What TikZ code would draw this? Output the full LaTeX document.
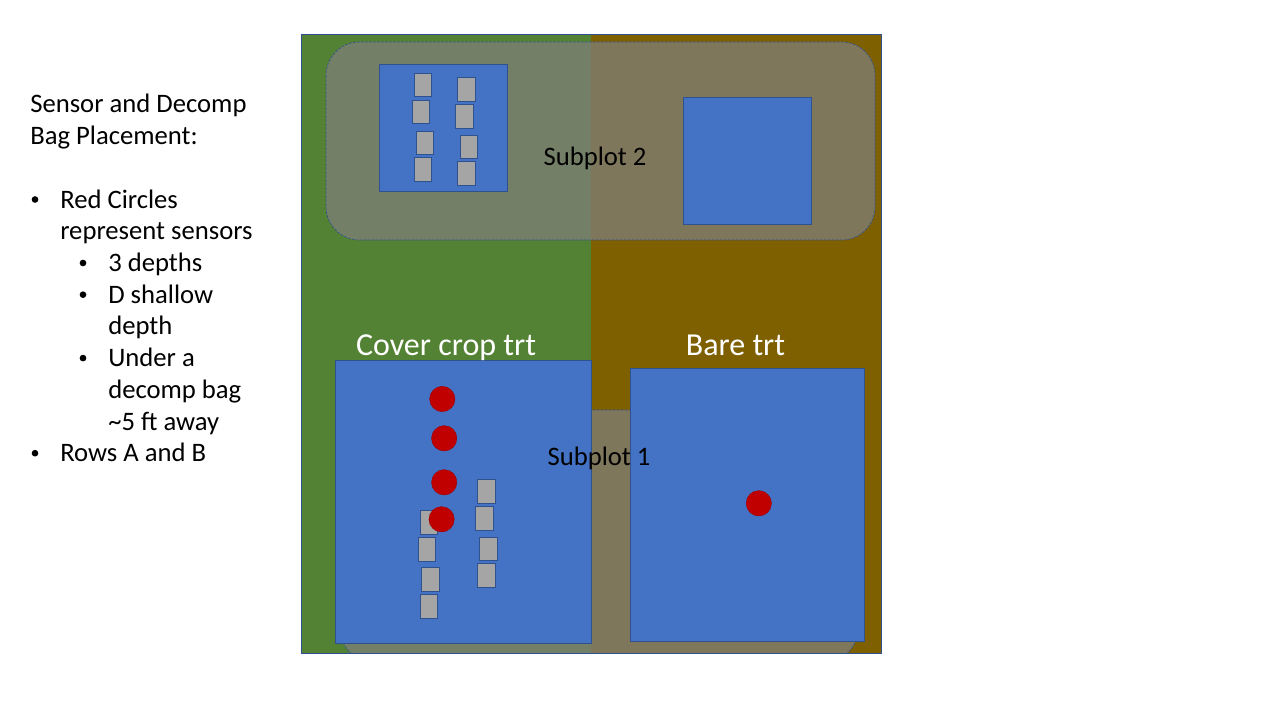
\documentclass[tikz,border=0pt]{standalone}
\usepackage{fontspec}
\setmainfont{Carlito}
\usepackage{tikz}

\definecolor{covergreen}{RGB}{84,130,53}
\definecolor{barebrown}{RGB}{127,96,0}
\definecolor{plotblue}{RGB}{68,114,196}
\definecolor{edgeblue}{RGB}{47,82,143}
\definecolor{baggray}{RGB}{165,165,165}
\definecolor{sensorred}{RGB}{192,0,0}
\definecolor{subgray}{RGB}{127,127,122}

\begin{document}
\begin{tikzpicture}[x=0.75pt,y=-0.75pt,
  plot/.style={draw=edgeblue,line width=0.6pt,fill=plotblue},
  subplot/.style={draw=edgeblue,line width=0.5pt,dash pattern=on 2pt off 1pt,
    fill=subgray,fill opacity=0.75,rounded corners=25pt},
  bag/.style={draw=edgeblue,line width=0.5pt,fill=baggray,inner sep=0pt,
    minimum width=13.2pt,minimum height=17.6pt},
  sensor/.style={circle,draw=sensorred!80!black,line width=0.3pt,fill=sensorred,
    inner sep=0pt,minimum size=19pt},
  legend/.style={anchor=base west,inner sep=0pt,font=\fontsize{20}{24}\selectfont},
  dot/.style={circle,fill=black,inner sep=0pt,minimum size=5pt},
  trt/.style={anchor=base,inner sep=0pt,text=white,font=\fontsize{24}{28}\selectfont},
  sub/.style={anchor=base,inner sep=0pt,font=\fontsize{20}{24}\selectfont}]
\useasboundingbox[fill=white] (0,0) rectangle (1280,720);

% field halves
\fill[covergreen] (301,34) rectangle (591,653);
\fill[barebrown] (591,34) rectangle (881,653);
\begin{scope}
\clip (301,34) rectangle (881,653);
\draw[subplot] (340,410) rectangle (858,662);
\end{scope}
\draw[edgeblue,line width=0.6pt] (301,34) rectangle (881,653);
\draw[subplot] (326,42) rectangle (875,240);

% plots
\draw[plot] (379,64) rectangle (507,191);
\draw[plot] (683,97) rectangle (811,224);
\draw[plot] (335,360) rectangle (591,643);
\draw[plot] (630,368) rectangle (864,641);

% decomp bags
\foreach \n/\x/\y in {ta/422.7/85,tb/420.8/112,tc/424.9/143,td/422.7/169.3,
  te/466.5/89.2,tf/464.6/116.5,tg/468.8/147,th/466.5/173.5,
  ca/428.7/522.3,cb/426.8/549.3,cc/430.5/579.3,cd/428.7/606.3,
  ce/486.3/491.2,cf/484.5/518.2,cg/488.2/549,ch/486.3/575.3}
  \node[bag] (bag-\n) at (\x,\y) {};

% sensors
\foreach \n/\x/\y in {1/442.3/399,2/444.2/438.3,3/444.2/482.3,4/441.6/519.3,5/758.8/503.3}
  \node[sensor] (s\n) at (\x,\y) {};

% labels
\node[trt] (cover) at (446,355) {Cover crop trt};
\node[trt] (bare) at (735.5,355) {Bare trt};
\node[sub] (sub1) at (599,465) {Subplot 1};
\node[sub] (sub2) at (595,166) {Subplot 2};

% legend text
\node[legend] (l1) at (30,113) {Sensor and Decomp};
\node[legend] (l2) at (30,144.7) {Bag Placement:};
\foreach \n/\x/\y/\t in {l3/60/208.1/{Red Circles},l4/60/239.8/{represent sensors},
  l5/108/271.5/{3 depths},l6/108/303.2/{D shallow},l7/108/334.9/{depth},
  l8/108/366.6/{Under a},l9/108/398.3/{decomp bag},l10/108/430/{\textasciitilde 5 ft away},
  l11/60/461.7/{Rows A and B}}
  \node[legend] (\n) at (\x,\y) {\t};
\foreach \n/\x/\y in {d1/35/199.5,d2/83/263,d3/83/294.7,d4/83/358.1,d5/35/453.2}
  \node[dot] (\n) at (\x,\y) {};
\end{tikzpicture}
\end{document}
